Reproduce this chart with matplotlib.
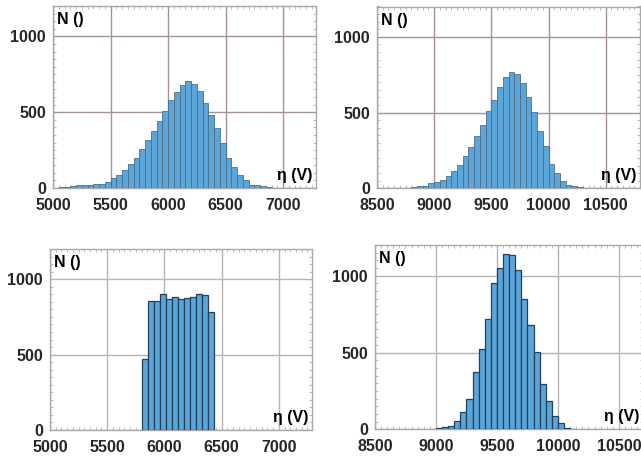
import numpy as np
import matplotlib
matplotlib.use("Agg")
import matplotlib.pyplot as plt
from matplotlib.ticker import MultipleLocator

# ---- histogram data (counts per bin, left bin edges) ----
# panel (a): eta around 6200 V, 50 V bins starting at 5050 V
a_edges_start = 5050
a_bin_width = 50
a_counts = [5, 7, 14, 20, 19, 20, 25, 24, 42, 65, 88, 120, 160, 199, 257, 316,
            376, 443, 507, 580, 630, 677, 706, 688, 640, 562, 480, 395, 295,
            201, 137, 89, 50, 21, 20, 10, 4, 1.5, 1.5, 1.5, 1.5, 1.5]

# panel (b): eta around 9700 V, 50 V bins starting at 8700 V
b_edges_start = 8700
b_bin_width = 50
b_counts = [2, 4, 9, 13, 18, 32, 42, 58, 84, 117, 157, 212, 272, 345, 418, 513,
            586, 670, 737, 770, 752, 692, 602, 502, 376, 277, 159, 100, 51,
            24, 13, 7, 4, 1.5, 1.5, 1.5, 1.5]

# panel (c): flat distribution between 5800 V and 6430 V, 12 bins
c_edges_start = 5800
c_bin_width = 52.5
c_counts = [468, 858, 858, 903, 871, 884, 871, 878, 884, 904, 892, 785]

# panel (d): eta around 9575 V, 50 V bins starting at 9000 V
d_edges_start = 9000
d_bin_width = 50
d_counts = [6, 13, 21, 52, 111, 198, 375, 523, 719, 954, 1048, 1144, 1133,
            1037, 850, 680, 503, 294, 185, 85, 41, 9, 4]

x_ticks_low = [5000, 5500, 6000, 6500, 7000]
x_ticks_high = [8500, 9000, 9500, 10000, 10500]
y_ticks = [0, 500, 1000]

plt.rcParams["font.family"] = ["Liberation Sans", "DejaVu Sans"]
plt.rcParams["font.weight"] = "bold"

fig = plt.figure(figsize=(6.41, 4.58), dpi=100)
W, H = 641.0, 458.0


def add_axes(left, right, top, bottom):
    return fig.add_axes([left / W, 1 - bottom / H, (right - left) / W, (bottom - top) / H])


BAR_COLOR = "#5ca5d8"


def draw_hist(ax, start, width, counts, xlim, xticks, grid_color, edge_color, edge_lw):
    counts = np.asarray(counts, dtype=float)
    lefts = start + width * np.arange(len(counts))
    ax.bar(lefts, counts, width=width, align="edge", color=BAR_COLOR,
           edgecolor=edge_color, linewidth=edge_lw, zorder=3)
    ax.set_xlim(*xlim)
    ax.set_ylim(0, 1200)
    ax.set_xticks(xticks)
    ax.set_yticks(y_ticks)
    ax.xaxis.set_minor_locator(MultipleLocator(50))
    ax.yaxis.set_minor_locator(MultipleLocator(50))
    ax.grid(True, which="major", color=grid_color, linewidth=1.0, zorder=1)
    ax.tick_params(which="major", length=0, labelsize=11.5, labelcolor="#262626")
    ax.tick_params(axis="x", which="major", pad=7)
    ax.tick_params(axis="y", which="major", pad=5)
    ax.tick_params(which="minor", direction="in", length=2.5, width=0.6,
                   color="#b0b0b0", top=True, right=True)
    for lab in ax.get_xticklabels() + ax.get_yticklabels():
        lab.set_fontweight("bold")
    for sp in ax.spines.values():
        sp.set_color("#a8a8a8")
        sp.set_linewidth(1.0)
    ax.text(0.014, 0.965, "N ()", transform=ax.transAxes, ha="left", va="top",
            fontsize=11.5, fontweight="bold", color="black", zorder=5)
    ax.text(0.985, 0.03, "η (V)", transform=ax.transAxes, ha="right", va="bottom",
            fontsize=11.5, fontweight="bold", color="black", zorder=5)


ax_a = add_axes(53, 316, 6, 188)
draw_hist(ax_a, a_edges_start, a_bin_width, a_counts, (5000, 7285), x_ticks_low,
          "#a5919c", "#4a6f8a", 0.6)

ax_b = add_axes(377, 640, 6.5, 188.3)
draw_hist(ax_b, b_edges_start, b_bin_width, b_counts, (8500, 10800), x_ticks_high,
          "#a5919c", "#4a6f8a", 0.6)

ax_c = add_axes(50, 312, 249, 430)
draw_hist(ax_c, c_edges_start, c_bin_width, c_counts, (5000, 7290), x_ticks_low,
          "#b4b4b4", "#23415a", 0.9)

ax_d = add_axes(375, 643, 245, 429.3)
draw_hist(ax_d, d_edges_start, d_bin_width, d_counts, (8500, 10697), x_ticks_high,
          "#b4b4b4", "#23415a", 0.9)

fig.savefig("out.png", dpi=100)
